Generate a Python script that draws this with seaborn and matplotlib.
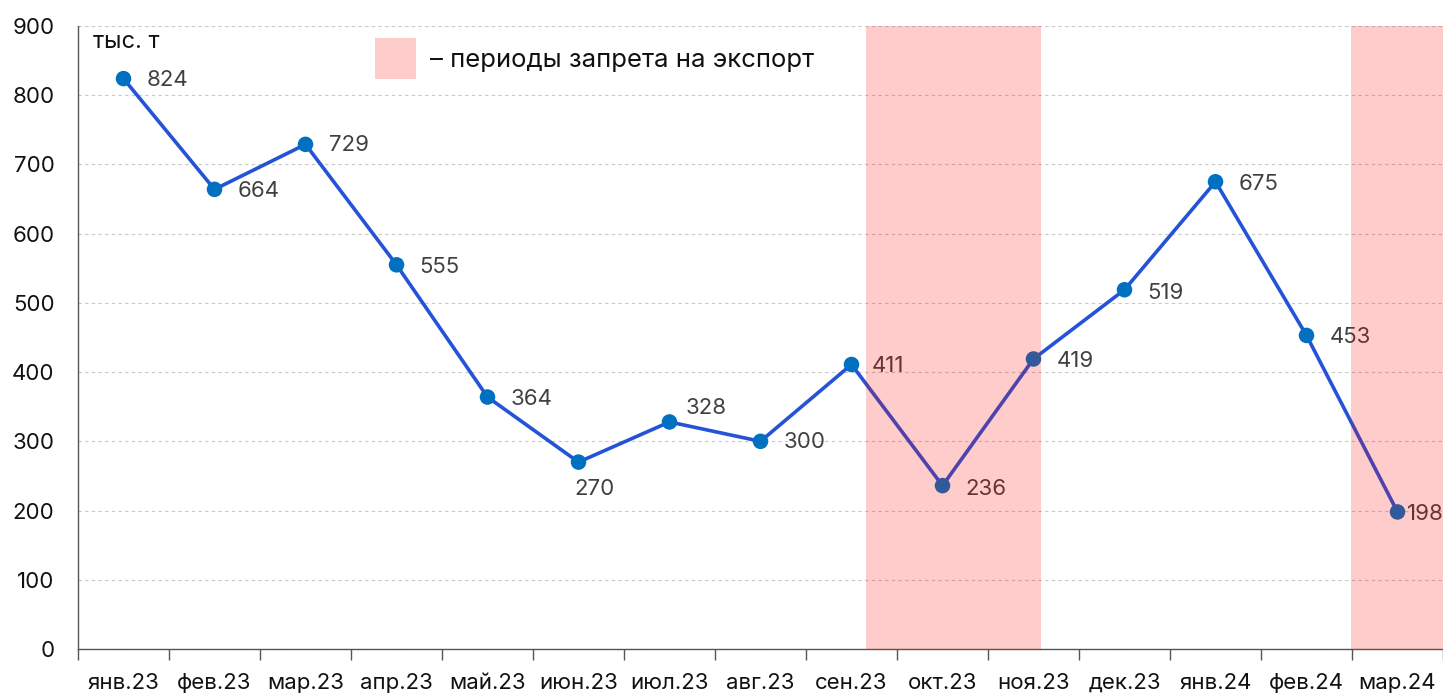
import matplotlib.pyplot as plt
import seaborn as sns
import pandas as pd

months = ['янв.23', 'фев.23', 'мар.23', 'апр.23', 'май.23', 'июн.23', 'июл.23',
          'авг.23', 'сен.23', 'окт.23', 'ноя.23', 'дек.23', 'янв.24', 'фев.24', 'мар.24']
volume = [824, 664, 729, 555, 364, 270, 328, 300, 411, 236, 419, 519, 675, 453, 198]
# export ban periods, in category positions
ban_periods = [(8.16, 10.08), (13.49, 14.5)]
# label offsets in pixels (dx, dy)
label_offsets = [(23, -1), (23, -2), (23, -1), (23, -2), (23, -2), (-4, -27), (16, 14),
                 (23, -1), (20, -2), (23, -3), (23, -2), (23, -3), (23, -2), (23, -2), (9, -2)]

sns.set_style('white')
plt.rcParams['font.family'] = ['Inter', 'DejaVu Sans']

df = pd.DataFrame({'month': months, 'volume': volume})

fig = plt.figure(figsize=(14.43, 6.93), dpi=100)
ax = fig.add_axes([78 / 1443, 44 / 693, 1365 / 1443, 623 / 693])

sns.lineplot(data=df, x='month', y='volume', color='#2453D8', linewidth=2.6, ax=ax, zorder=3)
sns.scatterplot(data=df, x='month', y='volume', color='#0070C0', s=125, edgecolor='none', ax=ax, zorder=4)

for i, v in enumerate(volume):
    dx, dy = label_offsets[i]
    ax.annotate(str(v), (i, v), xytext=(dx, dy), textcoords='offset pixels',
                ha='left', va='center', fontsize=16, color='#404040', zorder=5)

for start, end in ban_periods:
    ax.axvspan(start, end, color='red', alpha=0.2, lw=0, zorder=6)

ax.set_xlim(-0.5, 14.5)
ax.set_ylim(0, 900)
ax.set_yticks(range(0, 901, 100))
ax.yaxis.grid(True, linestyle=(0, (3, 3)), color='#c8c8c8', linewidth=0.8)
ax.set_axisbelow(True)

ax.set_xticks(range(len(months)))
ax.set_xticklabels(months)
ax.set_xticks([i - 0.5 for i in range(len(months) + 1)], minor=True)
ax.tick_params(axis='x', which='major', length=0, pad=17, labelsize=16, labelcolor='#111111')
ax.tick_params(axis='x', which='minor', bottom=True, length=8, width=1, color='#555555',
               direction='out')
ax.tick_params(axis='y', length=0, pad=17, labelsize=16, labelcolor='#111111')

ax.set_xlabel('')
ax.set_ylabel('')
for side in ['top', 'right']:
    ax.spines[side].set_visible(False)
ax.spines['left'].set_color('#555555')
ax.spines['bottom'].set_color('#555555')
ax.spines['left'].set_linewidth(1)
ax.spines['bottom'].set_linewidth(1)

fig.text(93 / 1443, 1 - 42 / 693, 'тыс. т', fontsize=17, color='#111111', va='center', ha='left')
fig.patches.append(plt.Rectangle((375 / 1443, 1 - 79 / 693), 41 / 1443, 41 / 693,
                                 transform=fig.transFigure, color='#FFCCCC', lw=0))
fig.text(430 / 1443, 1 - 60 / 693, '– периоды запрета на экспорт', fontsize=18.5,
         color='#111111', va='center', ha='left')

fig.savefig('out.png', dpi=100)
